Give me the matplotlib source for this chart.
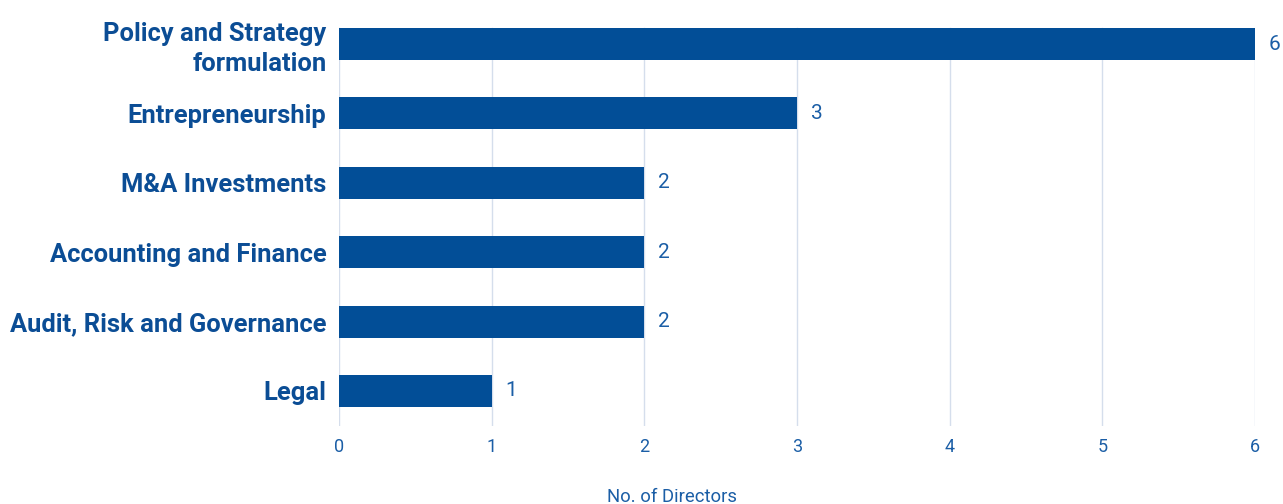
import numpy as np
import matplotlib
matplotlib.use('Agg')
import matplotlib.pyplot as plt

# Directors' expertise
skills = ['Policy and Strategy\nformulation', 'Entrepreneurship', 'M&A Investments',
          'Accounting and Finance', 'Audit, Risk and Governance', 'Legal']
directors = [6, 3, 2, 2, 2, 1]
xticks = [0, 1, 2, 3, 4, 5, 6]

barcol = '#024E97'
txtcol = '#0B4D95'
tickcol = '#1B5EA6'
gridcol = '#D5DEEC'

plt.rcParams['font.family'] = ['Roboto', 'DejaVu Sans']

W, H = 1283., 504.
fig = plt.figure(figsize=(12.83, 5.04), dpi=100)
ax = fig.add_axes([339/W, 1-425.7/H, (1255-339)/W, (425.7-9.3)/H])

ypos = np.arange(len(skills))
ax.barh(ypos, directors, height=0.46, color=barcol, zorder=3)
for i in range(len(skills)):
  ax.text(directors[i]+0.09, ypos[i], str(directors[i]), color=tickcol, fontsize=15,
          va='center', ha='left')

ax.set_ylim(len(skills)-0.5, -0.5)
ax.set_xlim(0, 6)
ax.set_xticks(xticks)
ax.set_xticklabels([str(t) for t in xticks], fontsize=13, color=tickcol)
ax.set_yticks(ypos)
ax.set_yticklabels(skills, fontsize=18.4, fontweight='bold', color=txtcol, linespacing=1.3)
ax.tick_params(axis='both', length=0)
ax.tick_params(axis='x', pad=9)
ax.tick_params(axis='y', pad=9)
# gridlines start at the top of the first bar
for t in xticks:
  ax.axvline(t, ymin=0, ymax=(425.7-28)/(425.7-9.3), color=gridcol, lw=1, zorder=0)
for s in ax.spines.values():
  s.set_visible(False)
fig.text(672/W, 1-502/H, 'No. of Directors', fontsize=13.3, color=tickcol,
         ha='center', va='baseline')

plt.savefig('out.png', dpi=100)
